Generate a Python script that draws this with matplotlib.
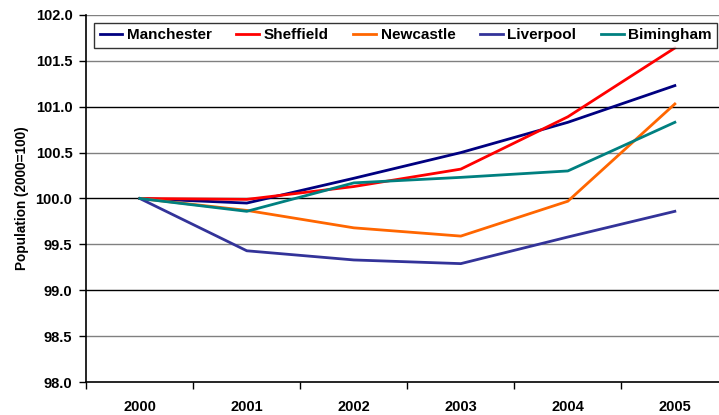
import matplotlib.pyplot as plt

plt.rcParams['font.family'] = ['Liberation Sans', 'DejaVu Sans']

# data
years = ['2000', '2001', '2002', '2003', '2004', '2005']
manchester = [100.0, 99.95, 100.22, 100.50, 100.83, 101.23]
sheffield = [100.0, 99.99, 100.13, 100.32, 100.89, 101.64]
newcastle = [100.0, 99.87, 99.68, 99.59, 99.97, 101.03]
liverpool = [100.0, 99.43, 99.33, 99.29, 99.58, 99.86]
birmingham = [100.0, 99.86, 100.17, 100.23, 100.30, 100.83]

series = [
    ('Manchester', manchester, '#000080'),
    ('Sheffield', sheffield, '#FF0000'),
    ('Newcastle', newcastle, '#FF6600'),
    ('Liverpool', liverpool, '#333399'),
    ('Bimingham', birmingham, '#008080'),
]

fig = plt.figure(figsize=(7.19, 4.15), dpi=100)
ax = fig.add_axes([0.120, 0.0795, 0.893, 0.8845])

x = list(range(len(years)))

# gridlines, black on whole numbers, grey on halves
for i in range(1, 9):
    v = 98.0 + i * 0.5
    col = 'black' if i % 2 == 0 and v < 102 else '#808080'
    ax.axhline(v, color=col, lw=1.0, zorder=1)

for name, vals, col in series:
    ax.plot(x, vals, color=col, lw=2.0, label=name, zorder=3)

ax.set_xlim(-0.5, 5.5)
ax.set_ylim(98.0, 102.0)
ax.set_yticks([98.0 + 0.5 * i for i in range(9)])
ax.set_yticklabels(['%.1f' % (98.0 + 0.5 * i) for i in range(9)],
                   fontsize=10.5, fontweight='bold')
ax.set_xticks(x)
ax.set_xticklabels(years, fontsize=10.5, fontweight='bold')
ax.set_xticks([i + 0.5 for i in range(-1, 6)], minor=True)
ax.tick_params(axis='x', which='major', length=0, pad=13)
ax.tick_params(axis='x', which='minor', length=5, direction='out', width=1)
ax.tick_params(axis='y', length=5, direction='out', width=1, pad=5)

ax.spines['top'].set_visible(False)
ax.spines['right'].set_visible(False)
ax.spines['left'].set_linewidth(1.2)
ax.spines['bottom'].set_linewidth(1.2)

ax.set_ylabel('Population (2000=100)', fontsize=9.8, fontweight='bold', labelpad=5)

leg = fig.legend(loc='upper left', bbox_to_anchor=(0.131, 0.945), ncol=5,
                 frameon=True, fancybox=False, edgecolor='black',
                 prop={'weight': 'bold', 'size': 11},
                 handlelength=1.5, handletextpad=0.3, columnspacing=1.6,
                 borderpad=0.35, borderaxespad=0)
leg.get_frame().set_linewidth(1.0)

plt.savefig('out.png', dpi=100)
